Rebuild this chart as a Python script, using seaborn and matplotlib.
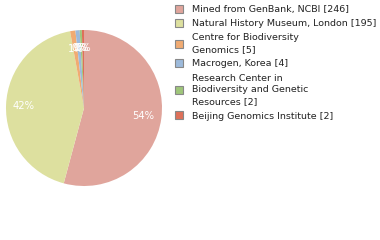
import matplotlib
matplotlib.use("Agg")
import matplotlib.pyplot as plt
import seaborn as sns
from matplotlib.patches import Patch

sns.set_style("white")
plt.rcParams['font.family'] = ['DejaVu Sans']

labels = ["Mined from GenBank, NCBI [246]",
          "Natural History Museum, London [195]",
          "Centre for Biodiversity\nGenomics [5]",
          "Macrogen, Korea [4]",
          "Research Center in\nBiodiversity and Genetic\nResources [2]",
          "Beijing Genomics Institute [2]"]
values = [246, 195, 5, 4, 2, 2]
colors = ["#e0a59c", "#dde09f", "#f1ab72", "#9dbadb", "#9fc67a", "#de7059"]

fig = plt.figure(figsize=(3.8, 2.4), dpi=100)
ax = fig.add_axes([6/380, 54/240, 156/380, 156/240])
wedges, texts, autotexts = ax.pie(
    values, colors=colors, startangle=90, counterclock=False,
    autopct=lambda p: f"{int(p)}%", pctdistance=0.77, radius=1,
    wedgeprops=dict(linewidth=0),
    textprops=dict(color="white", fontsize=7.2))
ax.set_xlim(-1, 1)
ax.set_ylim(-1, 1)
ax.set_aspect("equal")
ax.axis("off")

handles = [Patch(facecolor=c, edgecolor="#888888", linewidth=0.8) for c in colors]
leg = fig.legend(handles, labels, loc="upper left", bbox_to_anchor=(175/380, 1.0 - 5/240),
                 frameon=False, fontsize=6.8, handlelength=0.85, handleheight=0.85,
                 handletextpad=0.9, labelspacing=0.55, borderaxespad=0, borderpad=0)
for t in leg.get_texts():
    t.set_color("#222222")
    t.set_linespacing(1.4)

fig.savefig("out.png", dpi=100)
